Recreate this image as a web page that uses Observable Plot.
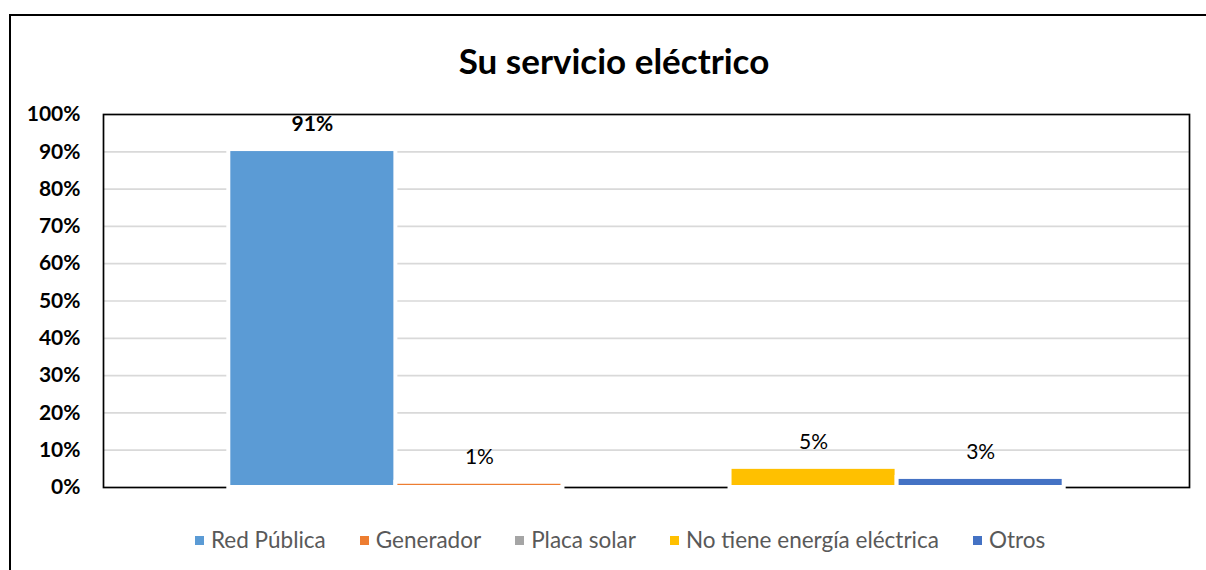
<!DOCTYPE html>
<html>
<head>
<meta charset="utf-8">
<script src="https://cdn.jsdelivr.net/npm/d3@7"></script>
<script src="https://cdn.jsdelivr.net/npm/@observablehq/plot@0.6"></script>
<style>
  html, body { margin: 0; padding: 0; background: #fff; }
  #wrap { position: relative; width: 1206px; height: 570px; overflow: hidden; font-family: Lato, "Open Sans", sans-serif; }
  #border { position: absolute; left: 9px; top: 14px; width: 1400px; height: 800px; border-left: 2px solid #000; border-top: 2px solid #000; }
  #title { position: absolute; left: 0; width: 1228px; top: 40px; text-align: center; font-size: 35px; font-weight: bold; color: #000; line-height: 40px; }
  #chart { position: absolute; left: 0; top: 90px; }
  #legend { position: absolute; left: 195px; top: 527px; display: flex; align-items: center; gap: 34px; font-size: 22.5px; color: #595959; line-height: 26px; white-space: nowrap; }
  .item { display: flex; align-items: center; gap: 7px; }
  .sw { width: 9px; height: 9px; display: inline-block; }
</style>
</head>
<body>
<div id="wrap">
  <div id="border"></div>
  <div id="title">Su servicio eléctrico</div>
  <div id="chart"></div>
  <div id="legend"></div>
</div>
<script>
const series = ["Red Pública", "Generador", "Placa solar", "No tiene energía eléctrica", "Otros"];
const values = [0.906, 0.014, 0, 0.054, 0.027];
const colors = ["#5B9BD5", "#ED7D31", "#A5A5A5", "#FFC000", "#4472C4"];
const yTicks = [0, 0.1, 0.2, 0.3, 0.4, 0.5, 0.6, 0.7, 0.8, 0.9, 1.0];

const data = series.map((s, i) => ({series: s, value: values[i]}));
const pct = d3.format(".0%");
const labeled = data.filter(d => d.value > 0);

const chart = Plot.plot({
  width: 1206,
  height: 420,
  marginTop: 24,
  marginBottom: 23,
  marginLeft: 103,
  marginRight: 17,
  x: {domain: series, paddingInner: 0, paddingOuter: 0.75, round: false, axis: null},
  y: {domain: [0, 1], label: null},
  color: {domain: series, range: colors},
  style: {fontFamily: "Lato, 'Open Sans', sans-serif", background: "transparent"},
  marks: [
    Plot.gridY(yTicks.filter(t => t > 0 && t < 1), {stroke: "#D9D9D9", strokeOpacity: 1, strokeWidth: 1.7}),
    Plot.frame({stroke: "#000", strokeWidth: 1.7}),
    Plot.axisY(yTicks, {label: null, tickSize: 0, tickPadding: 23, tickFormat: pct, fontSize: 21, fontWeight: "bold", fill: "#000"}),
    Plot.barY(data, {x: "series", y: "value", fill: "series", stroke: "white", strokeWidth: 4, inset: 0}),
    Plot.text(labeled.filter(d => d.series === "Red Pública"), {x: "series", y: "value", text: d => pct(d.value), dy: -25, fontSize: 21, fontWeight: "bold", fill: "#000"}),
    Plot.text(labeled.filter(d => d.series !== "Red Pública"), {x: "series", y: "value", text: d => pct(d.value), dy: -25, fontSize: 21, fill: "#000"})
  ]
});
document.getElementById("chart").appendChild(chart);

const legend = document.getElementById("legend");
series.forEach((s, i) => {
  const item = document.createElement("div");
  item.className = "item";
  const sw = document.createElement("span");
  sw.className = "sw";
  sw.style.background = colors[i];
  const t = document.createElement("span");
  t.textContent = s;
  item.appendChild(sw);
  item.appendChild(t);
  legend.appendChild(item);
});
</script>
</body>
</html>
